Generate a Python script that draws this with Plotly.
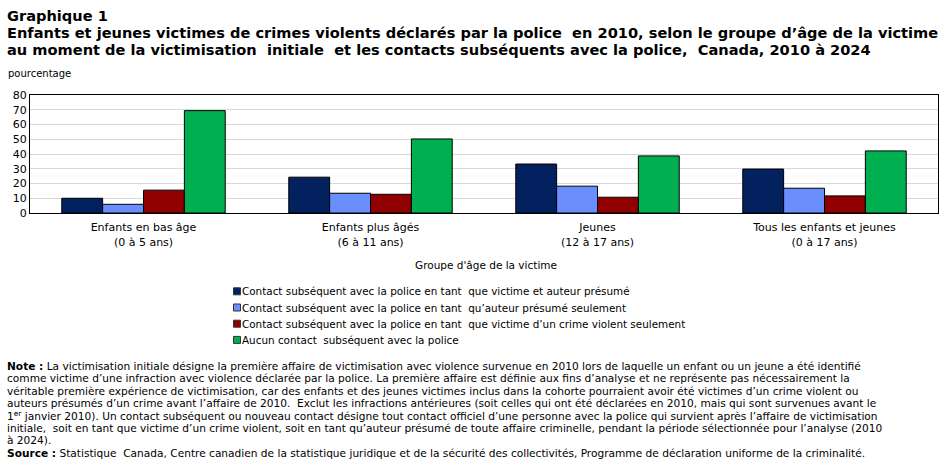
import plotly.graph_objects as go

categories = ["Enfants en bas âge<br>(0 à 5 ans)", "Enfants plus âgés<br>(6 à 11 ans)",
              "Jeunes<br>(12 à 17 ans)", "Tous les enfants et jeunes<br>(0 à 17 ans)"]
series_names = [
    "Contact subséquent avec la police en tant  que victime et auteur présumé",
    "Contact subséquent avec la police en tant  qu’auteur présumé seulement",
    "Contact subséquent avec la police en tant  que victime d’un crime violent seulement",
    "Aucun contact  subséquent avec la police",
]
victime_auteur = [10.0, 24.3, 33.2, 29.8]
auteur_seul = [5.9, 13.4, 18.2, 16.8]
victime_seul = [15.5, 12.7, 10.7, 11.6]
aucun_contact = [69.4, 50.2, 38.7, 42.1]
series_values = [victime_auteur, auteur_seul, victime_seul, aucun_contact]
colors = ["#03215E", "#6B8EFF", "#900000", "#00B050"]
y_ticks = [0, 10, 20, 30, 40, 50, 60, 70, 80]

title_lines = [
    "Graphique 1",
    "Enfants et jeunes victimes de crimes violents déclarés par la police  en 2010, selon le groupe d’âge de la victime",
    "au moment de la victimisation  initiale  et les contacts subséquents avec la police,  Canada, 2010 à 2024",
]
note_lines = [
    "<b>Note :</b> La victimisation initiale désigne la première affaire de victimisation avec violence survenue en 2010 lors de laquelle un enfant ou un jeune a été identifié",
    "comme victime d’une infraction avec violence déclarée par la police. La première affaire est définie aux fins d’analyse et ne représente pas nécessairement la",
    "véritable première expérience de victimisation, car des enfants et des jeunes victimes inclus dans la cohorte pourraient avoir été victimes d’un crime violent ou",
    "auteurs présumés d’un crime avant l’affaire de 2010.  Exclut les infractions antérieures (soit celles qui ont été déclarées en 2010, mais qui sont survenues avant le",
    "1<sup>er</sup> janvier 2010). Un contact subséquent ou nouveau contact désigne tout contact officiel d’une personne avec la police qui survient après l’affaire de victimisation",
    "initiale,  soit en tant que victime d’un crime violent, soit en tant qu’auteur présumé de toute affaire criminelle, pendant la période sélectionnée pour l’analyse (2010",
    "à 2024).",
    "<b>Source :</b> Statistique  Canada, Centre canadien de la statistique juridique et de la sécurité des collectivités, Programme de déclaration uniforme de la criminalité.",
]

W, H = 945, 465
L, R, T, B = 30, 938, 95, 213

def px(x):
    return (x - L) / (R - L)

def py(y):
    return (B - y) / (B - T)

fig = go.Figure()
for name, vals, c in zip(series_names, series_values, colors):
    fig.add_trace(go.Bar(x=categories, y=vals, name=name,
                         marker=dict(color=c, line=dict(color="black", width=1))))

annotations = []
shapes = []
for i, t in enumerate(title_lines):
    annotations.append(dict(text="<b>" + t + "</b>", x=px(5), y=py(15 + i * 17.5), xref="paper", yref="paper",
                            xanchor="left", yanchor="middle", showarrow=False,
                            font=dict(family="DejaVu Sans", size=14.6, color="black")))
annotations.append(dict(text="pourcentage", x=px(6), y=py(73), xref="paper", yref="paper",
                        xanchor="left", yanchor="middle", showarrow=False,
                        font=dict(family="DejaVu Sans", size=10, color="black")))
annotations.append(dict(text="Groupe d'âge de la victime", x=px(486), y=py(265), xref="paper", yref="paper",
                        xanchor="center", yanchor="middle", showarrow=False,
                        font=dict(family="DejaVu Sans", size=10.5, color="black")))
# legend (manual, to match compact spacing)
for i, (name, c) in enumerate(zip(series_names, colors)):
    yc = 291.3 + i * 16.2
    shapes.append(dict(type="rect", xref="paper", yref="paper",
                       x0=px(233.5), x1=px(240.5), y0=py(yc - 3.5), y1=py(yc + 3.5),
                       fillcolor=c, line=dict(color="#333333", width=1)))
    annotations.append(dict(text=name, x=px(240), y=py(yc), xref="paper", yref="paper",
                            xanchor="left", yanchor="middle", showarrow=False,
                            font=dict(family="DejaVu Sans", size=10.4, color="black")))
for i, t in enumerate(note_lines):
    annotations.append(dict(text=t, x=px(5), y=py(366 + i * 12.4), xref="paper", yref="paper",
                            xanchor="left", yanchor="middle", showarrow=False,
                            font=dict(family="DejaVu Sans", size=10.6, color="black")))

fig.update_layout(
    width=W, height=H,
    margin=dict(l=L, r=W - R, t=T, b=H - B),
    paper_bgcolor="white", plot_bgcolor="white",
    barmode="group", bargap=0.28, bargroupgap=0,
    font=dict(family="DejaVu Sans", size=11, color="black"),
    showlegend=False,
    annotations=annotations,
    shapes=shapes,
)
fig.update_yaxes(range=[0, 80], tickvals=y_ticks, showgrid=True, gridcolor="#D9D9D9",
                 showline=True, linecolor="black", linewidth=1, mirror=True,
                 ticks="", zeroline=False, tickfont=dict(size=11))
fig.update_xaxes(showline=True, linecolor="black", linewidth=1, mirror=True, ticks="",
                 tickfont=dict(size=11), ticklabelstandoff=4)

fig.write_html("out.html")
